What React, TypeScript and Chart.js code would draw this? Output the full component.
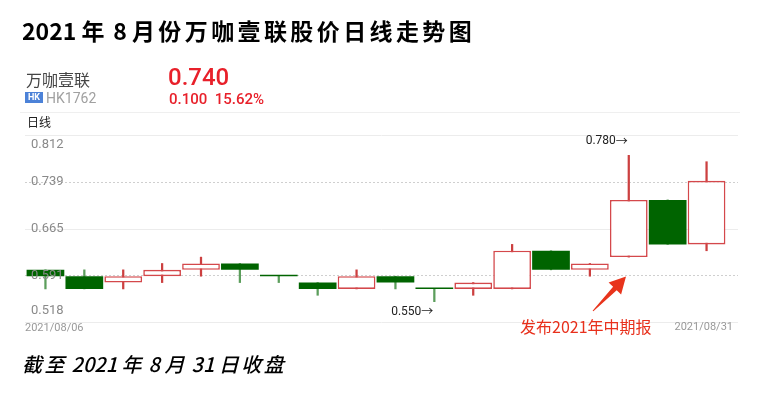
import React, { useEffect, useRef } from "react";
import { Chart, registerables } from "chart.js";
Chart.register(...registerables);

// ---- data ----
const dates = [
  "2021/08/06", "2021/08/09", "2021/08/10", "2021/08/11", "2021/08/12", "2021/08/13",
  "2021/08/16", "2021/08/17", "2021/08/18", "2021/08/19", "2021/08/20", "2021/08/23",
  "2021/08/24", "2021/08/25", "2021/08/26", "2021/08/27", "2021/08/30", "2021/08/31",
];
const openP = [0.60, 0.59, 0.58, 0.59, 0.60, 0.61, 0.59, 0.58, 0.57, 0.59, 0.57, 0.57, 0.57, 0.63, 0.60, 0.62, 0.71, 0.64];
const closeP = [0.59, 0.57, 0.59, 0.60, 0.61, 0.60, 0.59, 0.57, 0.59, 0.58, 0.57, 0.58, 0.63, 0.60, 0.61, 0.71, 0.64, 0.74];
const highP = [0.60, 0.60, 0.60, 0.61, 0.62, 0.61, 0.59, 0.58, 0.60, 0.59, 0.57, 0.58, 0.64, 0.63, 0.61, 0.78, 0.71, 0.77];
const lowP = [0.57, 0.57, 0.57, 0.58, 0.59, 0.58, 0.58, 0.56, 0.57, 0.57, 0.55, 0.56, 0.57, 0.60, 0.59, 0.62, 0.64, 0.63];

const yTickValues = [0.812, 0.7385, 0.665, 0.5915, 0.518];
const yTickLabels = ["0.812", "0.739", "0.665", "0.591", "0.518"];
const yMin = 0.518;
const yMax = 0.812;

const UP = "#d4484b";
const UP_WICK = "#cc4040";
const DOWN = "#006400";
const DOWN_WICK = "#5c9e5c";

const CJK = "'Noto Sans CJK SC', 'Noto Sans', sans-serif";

type Seg = [string, boolean];

function SegText(props: {
  x: number; cy: number; size: number; color: string; segs: Seg[]; spacing: number;
  weight?: number | string; italic?: boolean;
}) {
  const { x, cy, size, color, segs, spacing, weight, italic } = props;
  return (
    <div
      style={{
        position: "absolute",
        left: x,
        top: cy - size / 2,
        fontSize: size,
        lineHeight: `${size}px`,
        color,
        fontWeight: weight ?? 400,
        fontStyle: italic ? "italic" : "normal",
        fontFamily: CJK,
        whiteSpace: "pre",
      }}
    >
      {segs.map(([t, sp], i) => (
        <span key={i} style={{ letterSpacing: sp ? spacing : 0 }}>{t}</span>
      ))}
    </div>
  );
}

function Txt(props: {
  x: number; cy: number; size: number; color: string; text: string;
  weight?: number | string; family?: string;
}) {
  const { x, cy, size, color, text, weight, family } = props;
  return (
    <div
      style={{
        position: "absolute",
        left: x,
        top: cy - size / 2,
        fontSize: size,
        lineHeight: `${size}px`,
        color,
        fontWeight: weight ?? 400,
        fontFamily: family ?? CJK,
        whiteSpace: "pre",
      }}
    >
      {text}
    </div>
  );
}

export default function App() {
  const ref = useRef<HTMLCanvasElement>(null);

  useEffect(() => {
    if (!ref.current) return;
    const up = openP.map((o, i) => closeP[i] > o);

    const overlay = {
      id: "overlay",
      beforeDatasetsDraw(chart: any) {
        const { ctx, chartArea, scales } = chart;
        const y = scales.y;
        ctx.save();
        yTickValues.forEach((v, i) => {
          const py = Math.round(y.getPixelForValue(v)) + 0.5;
          const dotted = i === 1 || i === 3;
          ctx.strokeStyle = dotted ? "#cfcfcf" : "#ececec";
          ctx.lineWidth = 1;
          ctx.setLineDash(dotted ? [2, 2] : []);
          ctx.beginPath();
          ctx.moveTo(chartArea.left - 1, py);
          ctx.lineTo(chartArea.right + 12, py);
          ctx.stroke();
        });
        ctx.restore();
      },
      afterDatasetsDraw(chart: any) {
        const { ctx, chartArea, scales } = chart;
        const y = scales.y;
        const x = scales.x;
        ctx.save();
        ctx.font = "13px Roboto";
        ctx.fillStyle = "#8a8a8a";
        ctx.textAlign = "left";
        ctx.textBaseline = "middle";
        yTickValues.forEach((v, i) => {
          let py = y.getPixelForValue(v);
          if (i === 0) py += 10;
          if (i === yTickValues.length - 1) py -= 11;
          ctx.fillText(yTickLabels[i], chartArea.left + 5, py);
        });
        ctx.font = "11px Roboto";
        ctx.fillStyle = "#999";
        ctx.textAlign = "left";
        ctx.fillText(dates[0], chartArea.left - 1, chartArea.bottom + 6);
        ctx.textAlign = "right";
        ctx.fillText(dates[dates.length - 1], chartArea.right + 7, chartArea.bottom + 5);
        let hi = 0, lo = 0;
        highP.forEach((h, i) => { if (h > highP[hi]) hi = i; });
        lowP.forEach((l, i) => { if (l < lowP[lo]) lo = i; });
        const note = (val: number, px: number, py: number) => {
          ctx.fillStyle = "#222";
          ctx.textAlign = "right";
          ctx.font = "12px 'Noto Sans CJK SC'";
          ctx.fillText("→", px, py);
          const aw = ctx.measureText("→").width;
          ctx.font = "12px Roboto";
          ctx.fillText(val.toFixed(3), px - aw, py);
        };
        note(highP[hi], x.getPixelForValue(hi) - 1, y.getPixelForValue(highP[hi]) - 14);
        note(lowP[lo], x.getPixelForValue(lo) - 1, y.getPixelForValue(lowP[lo]) + 10);
        ctx.restore();
      },
    };

    const chart = new Chart(ref.current, {
      type: "bar",
      data: {
        labels: dates,
        datasets: [
          {
            label: "body",
            data: openP.map((o, i) => [o, closeP[i]]) as any,
            backgroundColor: up.map((u) => (u ? "#ffffff" : DOWN)),
            borderColor: up.map((u) => (u ? UP : DOWN)),
            borderWidth: up.map((u) => (u ? 1.6 : 0)) as any,
            borderSkipped: false,
            grouped: false,
            order: 0,
            categoryPercentage: 1,
            barPercentage: 0.97,
            minBarLength: 1.5,
          } as any,
          {
            label: "wick",
            data: lowP.map((l, i) => [l, highP[i]]) as any,
            backgroundColor: up.map((u) => (u ? UP_WICK : DOWN_WICK)),
            borderWidth: 0,
            barThickness: 1.6,
            grouped: false,
            order: 1,
          } as any,
        ],
      },
      options: {
        animation: false,
        responsive: false,
        maintainAspectRatio: false,
        layout: { padding: { left: 26, right: 32, top: 135, bottom: 75 } },
        plugins: { legend: { display: false }, tooltip: { enabled: false } },
        scales: {
          x: { display: false },
          y: { display: false, min: yMin, max: yMax },
        },
      },
      plugins: [overlay],
    });
    return () => chart.destroy();
  }, []);

  const arrow = "592.6,310.7 613.1,286.8 608.6,282.4 626,276.5 621.1,294.6 616.7,290.2 593.4,311.3";

  const titleSegs: Seg[] = [["2021 ", false], ["年", true], [" 8 ", false], ["月份万咖壹联股价日线走势图", true]];
  const capSegs: Seg[] = [["截至", true], [" 2021 ", false], ["年", true], [" 8 ", false], ["月", true], [" 31 ", false], ["日收盘", true]];

  return (
    <div style={{ position: "absolute", left: 0, top: 0, width: 758, height: 397, background: "#fff", overflow: "hidden" }}>
      <canvas ref={ref} width={758} height={397} style={{ position: "absolute", left: 0, top: 0, width: 758, height: 397 }} />
      <SegText x={22} cy={30} size={23} weight={700} color="#000" segs={titleSegs} spacing={3.4} />
      <Txt x={26} cy={79} size={16} color="#444" text="万咖壹联" />
      <div style={{ position: "absolute", left: 25, top: 92, width: 18, height: 11, background: "#4c82d8", color: "#fff", fontSize: 9, lineHeight: "11px", fontWeight: 700, textAlign: "center", fontFamily: "Roboto, sans-serif" }}>HK</div>
      <Txt x={46} cy={97.5} size={14} color="#a0a0a0" text="HK1762" family="Roboto, sans-serif" />
      <Txt x={168} cy={77} size={24} weight={500} color="#e8202a" text="0.740" family="Roboto, sans-serif" />
      <Txt x={169} cy={99.5} size={15} weight={500} color="#e8202a" text={"0.100  15.62%"} family="Roboto, sans-serif" />
      <div style={{ position: "absolute", left: 20, top: 112, width: 720, height: 1, background: "#efefef" }} />
      <Txt x={27} cy={122} size={12} color="#222" text="日线" />
      <svg width={758} height={397} style={{ position: "absolute", left: 0, top: 0 }}>
        <polygon points={arrow} fill="#e8341c" />
      </svg>
      <Txt x={520} cy={326} size={16} color="#e8301c" text="发布2021年中期报" />
      <SegText x={22} cy={364} size={20} italic weight={500} color="#000" segs={capSegs} spacing={2.5} />
    </div>
  );
}
